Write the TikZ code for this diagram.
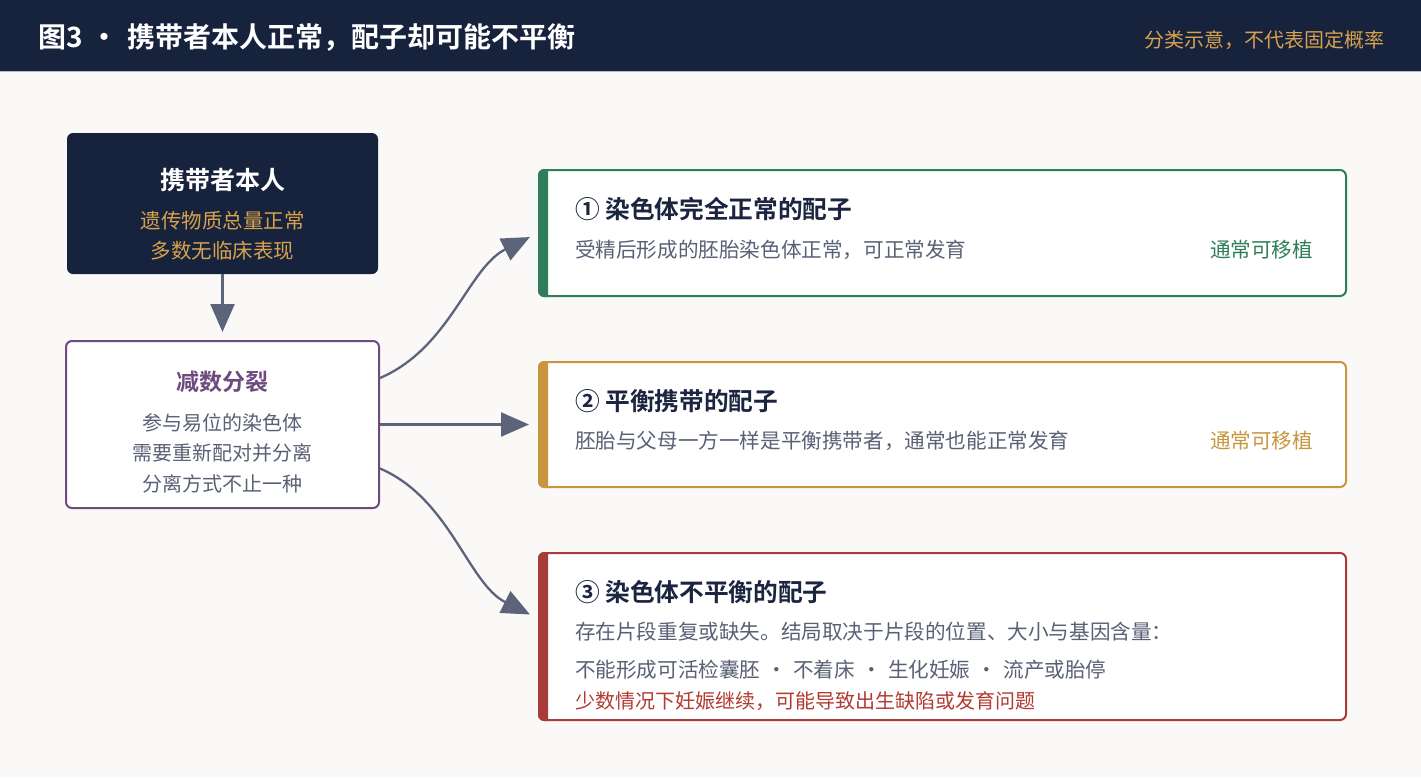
\documentclass[tikz,border=0pt]{standalone}
\usepackage{fontspec}
\setmainfont{Noto Sans CJK SC}[BoldFont={Noto Sans CJK SC Bold}]
\usetikzlibrary{arrows.meta,calc}
\definecolor{navy}{HTML}{17223D}
\definecolor{bgc}{HTML}{FAF9F7}
\definecolor{goldt}{HTML}{D6A24C}
\definecolor{goldb}{HTML}{C9963F}
\definecolor{greenc}{HTML}{2E7D5B}
\definecolor{redc}{HTML}{A83C38}
\definecolor{redt}{HTML}{B23A32}
\definecolor{purplec}{HTML}{6E4A7E}
\definecolor{grayt}{HTML}{596175}
\definecolor{titlet}{HTML}{1B2540}
\definecolor{arrowc}{HTML}{5B6478}
\definecolor{rulec}{HTML}{B4B9C4}
\newcommand\fsz[1]{\fontsize{#1}{#1}\selectfont}
\newcommand\sepdot{\hspace{0.3em}·\hspace{0.3em}}
\begin{document}
\begin{tikzpicture}[x=1pt,y=-1pt,
  txt/.style={inner sep=0pt, outer sep=0pt},
  gamete/.style={draw=#1, line width=2pt, fill=white, rounded corners=6pt,
    minimum width=807pt, inner sep=0pt},
  conn/.style={draw=arrowc, line width=2.3pt, -{Triangle[length=28pt,width=24pt]}}]
\useasboundingbox (0,0) rectangle (1421,777);
\fill[bgc] (0,0) rectangle (1421,777);
% header
\fill[navy] (0,0) rectangle (1421,71);
\draw[rulec, line width=1.5pt] (0,71.5) -- (1421,71.5);
\node[txt, anchor=west, text=white, font=\fsz{28}\bfseries] (title) at (38,37)
  {图3\sepdot 携带者本人正常，配子却可能不平衡};
\node[txt, anchor=east, text=goldt, font=\fsz{20}] (subtitle) at (1384,40)
  {分类示意，不代表固定概率};
% carrier box
\node[fill=navy, rounded corners=6pt, minimum width=311pt, minimum height=141pt, inner sep=0pt]
  (carrier) at (222.5,203.5) {};
\node[txt, text=white, font=\fsz{25}\bfseries] (carrierT) at (222.5,180) {携带者本人};
\node[txt, text=goldt, font=\fsz{20.5}] (carrierA) at (222.5,221) {遗传物质总量正常};
\node[txt, text=goldt, font=\fsz{20.5}] (carrierB) at (222.5,251) {多数无临床表现};
% meiosis box
\node[draw=purplec, line width=2pt, fill=white, rounded corners=6pt, minimum width=313pt,
  minimum height=167pt, inner sep=0pt] (meiosis) at (222.5,424.5) {};
\node[txt, text=purplec, font=\fsz{23}\bfseries] (meiosisT) at (222.5,382) {减数分裂};
\node[txt, text=grayt, font=\fsz{20}] (meiosisA) at (222.5,423) {参与易位的染色体};
\node[txt, text=grayt, font=\fsz{20}] (meiosisB) at (222.5,453) {需要重新配对并分离};
\node[txt, text=grayt, font=\fsz{20}] (meiosisC) at (222.5,484) {分离方式不止一种};
% gamete boxes
\node[gamete=greenc, minimum height=126pt] (g1) at (942.5,233) {};
\node[gamete=goldb, minimum height=125pt] (g2) at (942.5,424.5) {};
\node[gamete=redc, minimum height=167pt] (g3) at (942.5,636.5) {};
\foreach \b/\c in {g1/greenc,g2/goldb,g3/redc}{
  \begin{scope}
    \clip (\b.north west) rectangle ($(\b.south west)+(10,0)$);
    \fill[\c, rounded corners=6pt] (\b.north west) rectangle ($(\b.south west)+(24,0)$);
  \end{scope}
}
% gamete 1 text
\node[txt, anchor=west, text=titlet, font=\fsz{24.7}\bfseries] (g1T) at (575,209) {① 染色体完全正常的配子};
\node[txt, anchor=west, text=grayt, font=\fsz{20.6}] (g1A) at (575,250) {受精后形成的胚胎染色体正常，可正常发育};
\node[txt, anchor=east, text=greenc, font=\fsz{20.6}] (g1R) at (1313,250) {通常可移植};
% gamete 2 text
\node[txt, anchor=west, text=titlet, font=\fsz{24.7}\bfseries] (g2T) at (575,401) {② 平衡携带的配子};
\node[txt, anchor=west, text=grayt, font=\fsz{20.6}] (g2A) at (575,441) {胚胎与父母一方一样是平衡携带者，通常也能正常发育};
\node[txt, anchor=east, text=goldb, font=\fsz{20.6}] (g2R) at (1313,441) {通常可移植};
% gamete 3 text
\node[txt, anchor=west, text=titlet, font=\fsz{24.7}\bfseries] (g3T) at (575,592) {③ 染色体不平衡的配子};
\node[txt, anchor=west, text=grayt, font=\fsz{20.6}] (g3A) at (575,632) {存在片段重复或缺失。结局取决于片段的位置、大小与基因含量：};
\node[txt, anchor=west, text=grayt, font=\fsz{20.6}] (g3B) at (575,670) {不能形成可活检囊胚\sepdot 不着床\sepdot 生化妊娠\sepdot 流产或胎停};
\node[txt, anchor=west, text=redt, font=\fsz{20}] (g3C) at (575,701) {少数情况下妊娠继续，可能导致出生缺陷或发育问题};
% connectors
\coordinate (s1) at ($(meiosis.east)+(0,-46.5)$);
\coordinate (s3) at ($(meiosis.east)+(0,44)$);
\coordinate (e3) at ($(g3.west)+(0,-18)$);
\draw[conn, shorten >=8pt] (carrier.south) -- (meiosis.north);
\draw[conn, shorten >=9pt] (s1) .. controls +(70,-30) and +(-70,35) .. (g1.west);
\draw[conn, shorten >=9pt] (meiosis.east) -- (g2.west);
\draw[conn, shorten >=9pt] (s3) .. controls +(70,30) and +(-70,-35) .. (e3);
\end{tikzpicture}
\end{document}
